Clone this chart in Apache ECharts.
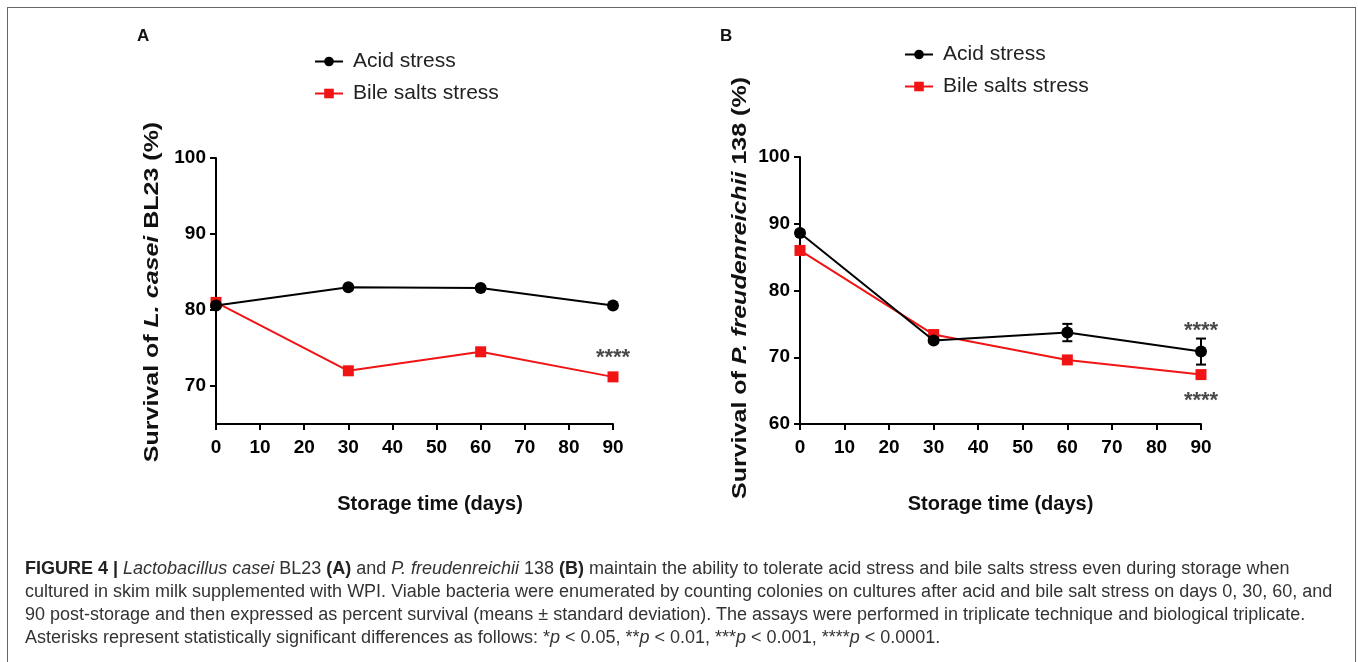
<!DOCTYPE html>
<html>
<head>
<meta charset="utf-8">
<script src="https://cdn.jsdelivr.net/npm/echarts@6/dist/echarts.min.js"></script>
<style>
  html, body { margin: 0; padding: 0; background: #fff; }
  #wrap { position: relative; width: 1358px; height: 662px; overflow: hidden; }
  #chart { position: absolute; left: 0; top: 0; width: 1358px; height: 662px; }
  #frame { position: absolute; left: 7px; top: 7px; width: 1347px; height: 700px; border: 1.5px solid #666; }
  .cap { position: absolute; left: 25px; white-space: nowrap; font-family: "Liberation Sans", Arial, sans-serif;
         font-size: 18px; color: #333; line-height: 20px; }
  .cap b { color: #222; }
</style>
</head>
<body>
<div id="wrap">
  <div id="frame"></div>
  <div id="chart"></div>
  <div class="cap" style="top:558px"><b>FIGURE 4 |</b> <i>Lactobacillus casei</i> BL23 <b>(A)</b> and <i>P. freudenreichii</i> 138 <b>(B)</b> maintain the ability to tolerate acid stress and bile salts stress even during storage when</div>
  <div class="cap" style="top:581px">cultured in skim milk supplemented with WPI. Viable bacteria were enumerated by counting colonies on cultures after acid and bile salt stress on days 0, 30, 60, and</div>
  <div class="cap" style="top:604px">90 post-storage and then expressed as percent survival (means ± standard deviation). The assays were performed in triplicate technique and biological triplicate.</div>
  <div class="cap" style="top:627px">Asterisks represent statistically significant differences as follows: *<i>p</i> &lt; 0.05, **<i>p</i> &lt; 0.01, ***<i>p</i> &lt; 0.001, ****<i>p</i> &lt; 0.0001.</div>
</div>
<script>
// storage days
const days = [0, 30, 60, 90];
const xTicks = [0, 10, 20, 30, 40, 50, 60, 70, 80, 90];

// panel A: L. casei BL23
const acidA = [80.6, 83.0, 82.9, 80.6];
const bileA = [81.0, 72.0, 74.5, 71.2];
const yTicksA = [70, 80, 90, 100];

// panel B: P. freudenreichii 138
const acidB = [88.6, 72.5, 73.7, 70.85];
const acidBsd = [0.4, 0.3, 1.3, 1.95];
const bileB = [86.0, 73.4, 69.6, 67.4];
const yTicksB = [60, 70, 80, 90, 100];

// significance marks (****)
const sigA = [[90, 74.2]];
const sigB = [[90, 74.6], [90, 64.0]];

const FONT = '"Liberation Sans", Arial, sans-serif';
const RED = '#f01414';
const BLACK = '#000';

const chart = echarts.init(document.getElementById('chart'));

const pairs = (ys) => days.map((d, i) => [d, ys[i]]);

const xAxisBase = (idx, padLeft) => ({
  type: 'value',
  gridIndex: idx,
  min: 0,
  max: 90,
  interval: 10,
  name: 'Storage time (days)',
  nameLocation: 'middle',
  nameGap: 70,
  nameTextStyle: { fontFamily: FONT, fontSize: 20, fontWeight: 'bold', color: '#111', padding: [0, 0, 0, padLeft] },
  axisLine: { show: true, lineStyle: { color: BLACK, width: 2 } },
  axisTick: { show: true, length: 6, lineStyle: { color: BLACK, width: 2 }, customValues: xTicks },
  axisLabel: { fontFamily: FONT, fontSize: 19, fontWeight: 'bold', color: '#000', margin: 14, customValues: xTicks },
  splitLine: { show: false }
});

const yAxisBase = (idx, min, ticks) => ({
  type: 'value',
  gridIndex: idx,
  min: min,
  max: 100,
  interval: 5,
  axisLine: { show: true, lineStyle: { color: BLACK, width: 2 } },
  axisTick: { show: true, length: 6, lineStyle: { color: BLACK, width: 2 }, customValues: ticks },
  axisLabel: { fontFamily: FONT, fontSize: 19, fontWeight: 'bold', color: '#000', margin: 10, customValues: ticks },
  splitLine: { show: false }
});

const lineSeries = (name, idx, ys, color, symbol, z) => ({
  name: name,
  type: 'line',
  xAxisIndex: idx,
  yAxisIndex: idx,
  data: pairs(ys),
  symbol: symbol,
  symbolSize: symbol === 'rect' ? 11 : 12,
  itemStyle: { color: color },
  lineStyle: { color: color, width: 2 },
  z: z,
  animation: false
});

function renderErr(params, api) {
  const x = api.value(0), y = api.value(1), sd = api.value(2);
  const top = api.coord([x, y + sd]);
  const bot = api.coord([x, y - sd]);
  const hw = 5;
  const st = { stroke: BLACK, lineWidth: 2 };
  return {
    type: 'group',
    children: [
      { type: 'line', shape: { x1: top[0], y1: top[1], x2: bot[0], y2: bot[1] }, style: st },
      { type: 'line', shape: { x1: top[0] - hw, y1: top[1], x2: top[0] + hw, y2: top[1] }, style: st },
      { type: 'line', shape: { x1: bot[0] - hw, y1: bot[1], x2: bot[0] + hw, y2: bot[1] }, style: st }
    ]
  };
}

const starSeries = (idx, pts) => ({
  type: 'scatter',
  xAxisIndex: idx,
  yAxisIndex: idx,
  data: pts,
  symbolSize: 0,
  silent: true,
  label: {
    show: true,
    position: 'inside',
    formatter: '****',
    fontFamily: FONT,
    fontSize: 22,
    fontWeight: 'bold',
    color: '#1a1a1a',
    offset: [0, 4]
  },
  z: 5
});

const legendBase = (left, top) => ({
  orient: 'vertical',
  left: left,
  top: top,
  itemWidth: 28,
  itemHeight: 12,
  itemGap: 11,
  data: ['Acid stress', 'Bile salts stress'],
  textStyle: { fontFamily: FONT, fontSize: 21, color: '#222', padding: [0, 0, 0, 5] }
});

const rotTitle = (x, y, italicPart, before, after) => ({
  type: 'text',
  x: x,
  y: y,
  rotation: Math.PI / 2,
  scaleX: 1.25,
  style: {
    text: '{n|' + before + '}{i|' + italicPart + '}{n|' + after + '}',
    rich: {
      n: { fontFamily: FONT, fontSize: 20, fontWeight: 'bold', fill: '#111' },
      i: { fontFamily: FONT, fontSize: 20, fontWeight: 'bold', fontStyle: 'italic', fill: '#111' }
    },
    align: 'center',
    verticalAlign: 'middle'
  }
});

const option = {
  animation: false,
  grid: [
    { left: 216, top: 158, width: 397, height: 266 },
    { left: 800, top: 157, width: 401, height: 267 }
  ],
  xAxis: [xAxisBase(0, 31), xAxisBase(1, 0)],
  yAxis: [yAxisBase(0, 65, yTicksA), yAxisBase(1, 60, yTicksB)],
  legend: [legendBase(309, 46), legendBase(899, 39)],
  graphic: [
    { type: 'text', x: 137, y: 28, style: { text: 'A', fontFamily: FONT, fontSize: 17, fontWeight: 'bold', fill: '#111' } },
    { type: 'text', x: 720, y: 28, style: { text: 'B', fontFamily: FONT, fontSize: 17, fontWeight: 'bold', fill: '#111' } },
    rotTitle(152, 292, 'L. casei', 'Survival of ', ' BL23 (%)'),
    rotTitle(740, 288, 'P. freudenreichii', 'Survival of ', ' 138 (%)')
  ],
  series: [
    lineSeries('Bile salts stress', 0, bileA, RED, 'rect', 2),
    lineSeries('Acid stress', 0, acidA, BLACK, 'circle', 3),
    lineSeries('Bile salts stress', 1, bileB, RED, 'rect', 2),
    lineSeries('Acid stress', 1, acidB, BLACK, 'circle', 3),
    {
      type: 'custom',
      xAxisIndex: 1,
      yAxisIndex: 1,
      renderItem: renderErr,
      encode: { x: 0, y: 1 },
      data: days.map((d, i) => [d, acidB[i], acidBsd[i]]),
      z: 4,
      silent: true
    },
    starSeries(0, sigA),
    starSeries(1, sigB)
  ]
};

chart.setOption(option);
</script>
</body>
</html>
